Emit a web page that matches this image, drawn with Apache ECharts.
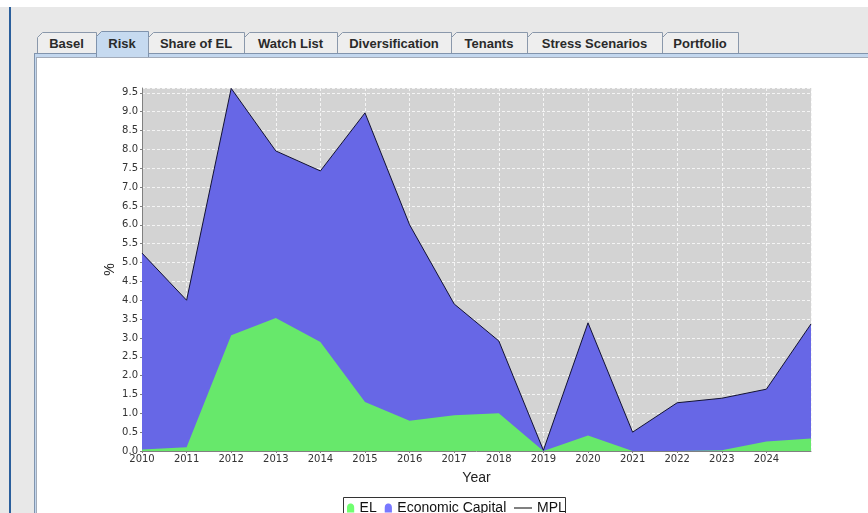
<!DOCTYPE html>
<html>
<head>
<meta charset="utf-8">
<script src="https://cdn.jsdelivr.net/npm/echarts@6/dist/echarts.min.js"></script>
<style>
  html, body { margin: 0; padding: 0; background: #ffffff; width: 868px; height: 513px; overflow: hidden; }
  #frame { position: absolute; left: 0; top: 0; }
  #chart { position: absolute; left: 0; top: 0; width: 868px; height: 513px; }
</style>
</head>
<body>
<svg id="frame" width="868" height="513" xmlns="http://www.w3.org/2000/svg"></svg>
<div id="chart"></div>
<script>
// ---- data ----
const tabLabels = ["Basel", "Risk", "Share of EL", "Watch List", "Diversification", "Tenants", "Stress Scenarios", "Portfolio"];
const years = [2010, 2011, 2012, 2013, 2014, 2015, 2016, 2017, 2018, 2019, 2020, 2021, 2022, 2023, 2024, 2025];
const elValues = [0.04, 0.10, 3.07, 3.53, 2.89, 1.30, 0.80, 0.95, 1.00, 0.00, 0.41, 0.00, 0.00, 0.02, 0.25, 0.33];
const mplValues = [5.25, 4.00, 9.62, 7.96, 7.43, 8.97, 6.00, 3.90, 2.92, 0.02, 3.40, 0.50, 1.28, 1.40, 1.64, 3.37];
const seriesNames = ["EL", "Economic Capital", "MPL"];
const axisNames = { x: "Year", y: "%" };

// ---- frame (Swing-like tabbed pane) ----
const tabEdges = [37, 96, 148, 244, 337, 451, 527, 662, 738];
const selectedTab = 1;
(function drawFrame() {
  const svg = document.getElementById('frame');
  let s = '';
  s += '<rect x="0" y="7" width="868" height="506" fill="#e8e8e8"/>';
  s += '<rect x="9" y="7" width="2" height="506" fill="#2b5f9c"/>';
  // panel
  s += '<rect x="34" y="53" width="834" height="460" fill="#ffffff"/>';
  s += '<rect x="34" y="53" width="834" height="1" fill="#8194ad"/>';
  s += '<rect x="35" y="54" width="833" height="3" fill="#c3d7ee"/>';
  s += '<rect x="36" y="57" width="832" height="1" fill="#a2abb9"/>';
  s += '<rect x="34" y="53" width="1" height="460" fill="#8194ad"/>';
  s += '<rect x="35" y="54" width="1" height="459" fill="#c3d7ee"/>';
  s += '<rect x="36" y="57" width="1" height="456" fill="#a2abb9"/>';
  for (let i = 0; i < tabLabels.length; i++) {
    const x0 = tabEdges[i], x1 = tabEdges[i + 1];
    const sel = i === selectedTab;
    const top = sel ? 31 : 32;
    const bottom = sel ? 57 : 53;
    s += `<path d="M${x0 + 0.5},${bottom} V${top + 5.5} L${x0 + 5.5},${top + 0.5} H${x1 + 0.5} V${bottom}" fill="${sel ? '#c6daf0' : '#eeeeee'}" stroke="${sel ? '#7f93ad' : '#8a98ab'}" stroke-width="1"/>`;
    s += `<text x="${(x0 + x1) / 2}" y="48" text-anchor="middle" font-family="Liberation Sans, Arial, sans-serif" font-weight="bold" font-size="13" fill="#2a2a2a">${tabLabels[i]}</text>`;
  }
  svg.innerHTML = s;
})();

// ---- chart ----
const chart = echarts.init(document.getElementById('chart'), null, { renderer: 'canvas' });
const toPairs = arr => years.map((y, i) => [y, arr[i]]);
const domeIcon = 'path://M0,10 L0,5 C0,1 2,0 4,0 C6,0 8,1 8,5 L8,10 Z';
const lineIcon = 'path://M0,4 H18 V5 H0 Z';
const blue = '#6767e6';
const green = '#67e86b';

chart.setOption({
  backgroundColor: 'transparent',
  animation: false,
  grid: { left: 142, top: 88, right: 57, bottom: 62, show: true, backgroundColor: '#d3d3d3', borderWidth: 0, outerBoundsMode: 'none' },
  xAxis: {
    type: 'value', min: 2010, max: 2025, interval: 1,
    name: axisNames.x, nameLocation: 'middle', nameGap: 20, nameMoveOverlap: false,
    nameTextStyle: { fontFamily: 'Liberation Sans', fontSize: 14, color: '#222' },
    axisLine: { show: true, lineStyle: { color: '#808080', width: 1 } },
    axisTick: { show: true, length: 2, lineStyle: { color: '#808080' } },
    axisLabel: { showMaxLabel: false, margin: 3, fontFamily: 'DejaVu Sans', fontSize: 10, color: '#333', formatter: v => String(v) },
    splitLine: { show: true, lineStyle: { color: '#f4f4f4', type: [3, 2], width: 1 } }
  },
  yAxis: {
    type: 'value', min: 0, max: 9.63, interval: 0.5,
    name: axisNames.y, nameLocation: 'middle', nameGap: 25, nameRotate: 90, nameMoveOverlap: false,
    nameTextStyle: { fontFamily: 'Liberation Sans', fontSize: 14, color: '#222' },
    axisLine: { show: true, lineStyle: { color: '#808080', width: 1 } },
    axisTick: { show: true, length: 2, lineStyle: { color: '#808080' } },
    axisLabel: { showMaxLabel: false, margin: 4, fontFamily: 'DejaVu Sans', fontSize: 10, color: '#333', formatter: v => v.toFixed(1) },
    splitLine: { show: true, lineStyle: { color: '#f4f4f4', type: [3, 2], width: 1 } }
  },
  legend: [
    {
      data: [
        { name: seriesNames[0], icon: domeIcon, itemStyle: { color: '#70ff70' } },
        { name: seriesNames[1], icon: domeIcon, itemStyle: { color: '#7878ff' } }
      ],
      left: 347, top: 501, padding: 0, itemWidth: 8, itemHeight: 9, itemGap: 8,
      textStyle: { fontFamily: 'Liberation Sans', fontSize: 14, color: '#111' },
      selectedMode: false
    },
    {
      data: [{ name: seriesNames[2], icon: lineIcon, itemStyle: { color: '#000000' } }],
      left: 514, top: 501, padding: 0, itemWidth: 18, itemHeight: 9,
      textStyle: { fontFamily: 'Liberation Sans', fontSize: 14, color: '#111' },
      selectedMode: false
    }
  ],
  graphic: [
    { type: 'rect', shape: { x: 343.5, y: 497.5, width: 222, height: 30 }, style: { fill: '#ffffff', stroke: '#333333', lineWidth: 1 }, z: -1 }
  ],
  series: [
    {
      name: seriesNames[1], type: 'line', data: toPairs(mplValues), symbol: 'none',
      lineStyle: { width: 0 }, itemStyle: { color: blue },
      areaStyle: { color: blue, opacity: 1 }, z: 1
    },
    {
      name: seriesNames[0], type: 'line', data: toPairs(elValues), symbol: 'none',
      lineStyle: { width: 0 }, itemStyle: { color: green },
      areaStyle: { color: green, opacity: 1 }, z: 2
    },
    {
      name: seriesNames[2], type: 'line', data: toPairs(mplValues), symbol: 'none',
      lineStyle: { width: 1, color: '#111133' }, itemStyle: { color: '#000000' }, z: 3
    }
  ]
});
</script>
</body>
</html>
